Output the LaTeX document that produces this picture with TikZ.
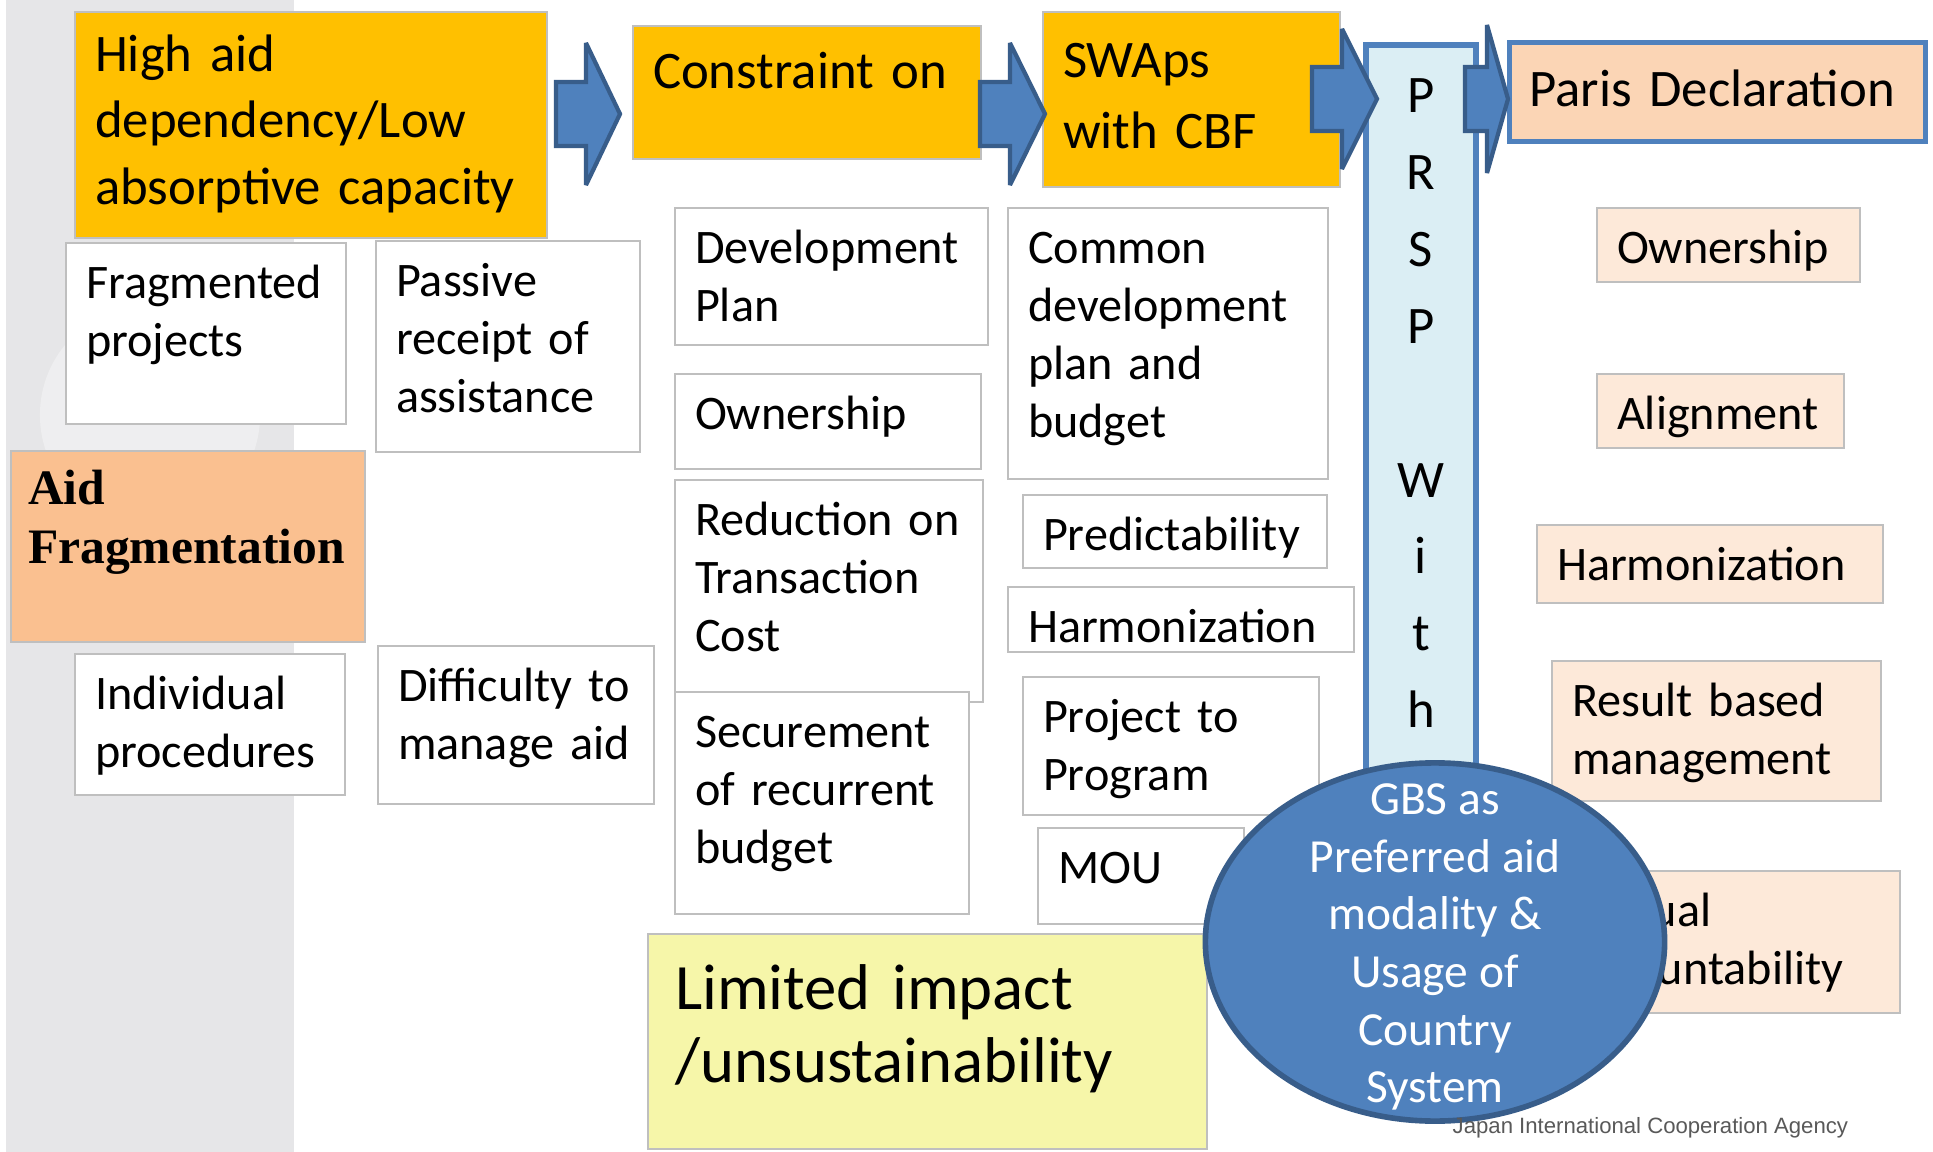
\documentclass[tikz,border=0pt]{standalone}
\usepackage{fontspec}
\setmainfont{Carlito}
\newfontfamily\timesfont{Liberation Serif}
\newfontfamily\arialfont{Liberation Sans}
\usetikzlibrary{shapes.geometric}

\definecolor{jicagold}{HTML}{FFC000}
\definecolor{jicapeach}{HTML}{FBD5B5}
\definecolor{jicacream}{HTML}{FDE9D9}
\definecolor{jicaorange}{HTML}{FAC090}
\definecolor{jicayellow}{HTML}{F6F6A9}
\definecolor{jicablue}{HTML}{4F81BD}
\definecolor{jicanavy}{HTML}{385D8A}
\definecolor{jicasky}{HTML}{DBEEF4}
\definecolor{cellline}{HTML}{BFBFBF}
\definecolor{stripgray}{HTML}{E6E6E8}

\begin{document}
\begin{tikzpicture}[x=0.01cm, y=-0.01cm,
    cell/.style={draw=cellline, line width=0.6pt, fill=white, anchor=north west, align=left,
        inner xsep=0.2cm, inner ysep=0pt, text height=0.555cm, font=\fontsize{13.7}{16.5}\selectfont},
    stage/.style={cell, fill=jicagold, font=\fontsize{15}{19}\selectfont},
    goal/.style={cell, fill=jicacream},
    prsp/.style={draw=jicablue, line width=1.6pt, fill=jicasky, anchor=north, align=center,
        text width=0.7cm, inner xsep=0.2cm, inner ysep=0pt, font=\fontsize{15}{21.85}\selectfont},
    blockarrow/.style={fill=jicablue, draw=jicanavy, line width=1.2pt, line join=miter, miter limit=1.5},
    gbs/.style={ellipse, fill=jicablue, draw=jicanavy, line width=1.6pt,
        minimum width=4.59cm, minimum height=3.58cm, inner sep=0pt},
    gbstext/.style={text=white, align=center, font=\fontsize{13.5}{16.4}\selectfont},
    footer/.style={anchor=base west, inner sep=0pt, text=black!65, font=\arialfont\fontsize{6.3}{7}\selectfont}]

    \useasboundingbox[fill=white] (0,0) rectangle (1933,1152);

    % side strip
    \fill[stripgray] (6,0) rectangle (294,1152);
    \begin{scope}
        \clip (6,0) rectangle (294,1152);
        \fill[white, opacity=0.35] (150,415) circle (1.1cm);
    \end{scope}

    % first column
    \node[stage, text width=4.32cm, text height=0.59cm, text depth=1.67cm] (highaid) at (74,11)
        {High~aid\\dependency/Low\\absorptive~capacity};
    \node[cell, text width=2.4cm, text depth=1.255cm] (fragproj) at (65,242) {Fragmented\\projects};
    \node[cell, text width=2.24cm, text depth=1.555cm] (passive) at (375,240) {Passive\\receipt~of\\assistance};
    \node[cell, fill=jicaorange, inner xsep=0.17cm, text width=3.2cm, text height=0.53cm, text depth=1.38cm,
        font=\timesfont\bfseries\fontsize{14.1}{16.8}\selectfont] (aidfrag) at (10,450) {Aid\\Fragmentation};
    \node[cell, text width=2.3cm, text depth=0.855cm] (indiv) at (74,653) {Individual\\procedures};
    \node[cell, text width=2.36cm, text depth=1.025cm] (difficulty) at (377,645) {Difficulty~to\\manage~aid};

    % second column
    \node[stage, text width=3.08cm, text height=0.62cm, text depth=0.71cm] (constraint) at (632,25) {Constraint~on};
    \node[cell, text width=2.73cm, text depth=0.815cm] (devplan) at (674,207) {Development\\Plan};
    \node[cell, text width=2.66cm, text depth=0.395cm] (ownmid) at (674,373) {Ownership};
    \node[cell, text width=2.68cm, text depth=1.665cm] (reduction) at (674,479) {Reduction~on\\Transaction\\Cost};
    \node[cell, text width=2.54cm, text depth=1.665cm] (securement) at (674,691) {Securement\\of~recurrent\\budget};
    \node[cell, fill=jicayellow, inner xsep=0.27cm, text width=5.05cm, text height=0.75cm, text depth=1.4cm,
        font=\fontsize{18.4}{21}\selectfont] (limited) at (647,933) {Limited~impact\\/unsustainability};

    % third column
    \node[stage, text width=2.57cm, text height=0.65cm, text depth=1.1cm,
        font=\fontsize{15}{20.3}\selectfont] (swaps) at (1042,11) {SWAps\\with~CBF};
    \node[cell, text width=2.8cm, text depth=2.155cm] (common) at (1007,207) {Common\\development\\plan~and\\budget};
    \node[cell, text width=2.64cm, text depth=0.175cm] (predict) at (1022,494) {Predictability};
    \node[cell, text width=3.06cm, text depth=0.095cm] (harmmid) at (1007,586) {Harmonization};
    \node[cell, text width=2.56cm, text depth=0.825cm] (project) at (1022,676) {Project~to\\Program};
    \node[cell, text width=1.66cm, text depth=0.405cm] (mou) at (1037,827) {MOU};

    % PRSP column
    \node[prsp, text height=0.68cm, text depth=6.8cm] (prspcol) at (1421,42) {P\\R\\S\\P\\[21.85pt]W\\i\\t\\h};

    % Paris Declaration
    \node[stage, fill=jicapeach, draw=jicablue, line width=1.3pt, text width=3.76cm, text height=0.64cm,
        text depth=0.35cm] (paris) at (1507,40) {Paris~Declaration};
    \node[goal, text width=2.23cm, text depth=0.185cm] (ownR) at (1596,207) {Ownership};
    \node[goal, text width=2.07cm, text depth=0.185cm] (alignR) at (1596,373) {Alignment};
    \node[goal, text width=3.06cm, text depth=0.225cm] (harmR) at (1536,524) {Harmonization};
    \node[goal, text width=2.89cm, text depth=0.845cm] (resultR) at (1551,660) {Result~based\\management};
    \node[goal, text width=3.11cm, text depth=0.865cm] (mutualR) at (1548,870) {Mutual\\accountability};

    % block arrows
    \foreach \xs/\xh/\xt/\yc/\hh in {556/586/620/114/71, 980/1010/1045/114/71,
                                     1312/1342/1377/99/70, 1465/1487/1508/99/74}
        \draw[blockarrow] (\xs,\yc-32) -- (\xh,\yc-32) -- (\xh,\yc-\hh) -- (\xt,\yc)
            -- (\xh,\yc+\hh) -- (\xh,\yc+32) -- (\xs,\yc+32) -- cycle;

    % GBS
    \node[gbs] (gbs) at (1435,942) {};
    \node[gbstext] (gbstext) at ([yshift=-0.05cm]gbs.center)
        {GBS~as\\Preferred~aid\\modality~\&\\Usage~of\\Country\\System};

    \node[footer] (jica) at (1452,1133) {Japan International Cooperation Agency};
\end{tikzpicture}
\end{document}
